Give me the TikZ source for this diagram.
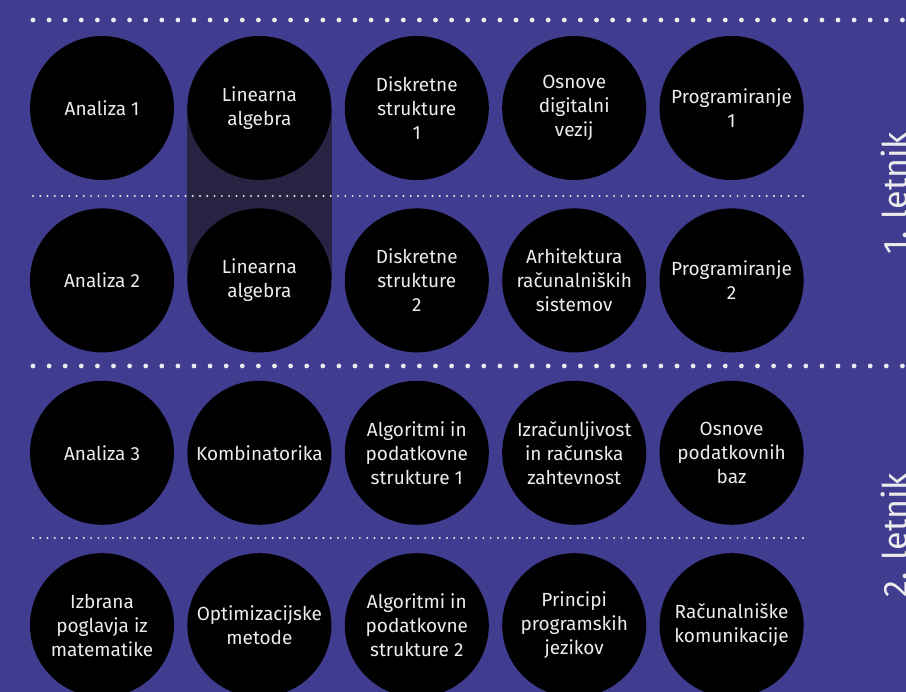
\documentclass[tikz,border=0pt]{standalone}
\usepackage{fontspec}
\setmainfont{Fira Sans}
\usepackage{tikz}
\usetikzlibrary{positioning,backgrounds}
\definecolor{ozadje}{RGB}{64,60,143}
\definecolor{senca}{RGB}{38,36,66}
\definecolor{napis}{RGB}{236,236,236}

\begin{document}
\begin{tikzpicture}[x=1pt,y=1pt,node distance=28pt and 13pt,
		predmet/.style={circle,fill=black,text=napis,minimum size=144pt,inner sep=0pt,align=center,font=\fontsize{19}{24}\selectfont},
		letnik/.style={text=napis,font=\fontsize{34}{34}\selectfont,rotate=90,anchor=base}]
			\useasboundingbox (0,0) rectangle (906,692);
			\clip (0,0) rectangle (906,692);
			% 1. letnik
			\node[predmet] (an1) at (102,584) {Analiza 1};
			\node[predmet] (la1) [right=of an1] {Linearna\\algebra};
			\node[predmet] (ds1) [right=of la1] {Diskretne\\strukture\\1};
			\node[predmet] (odv) [right=of ds1] {Osnove\\digitalni\\vezij};
			\node[predmet] (pr1) [right=of odv] {Programiranje\\1};
			\node[predmet] (an2) [below=of an1] {Analiza 2};
			\node[predmet] (la2) [right=of an2] {Linearna\\algebra};
			\node[predmet] (ds2) [right=of la2] {Diskretne\\strukture\\2};
			\node[predmet] (ars) [right=of ds2] {Arhitektura\\računalniških\\sistemov};
			\node[predmet] (pr2) [right=of ars] {Programiranje\\2};
			% 2. letnik
			\node[predmet] (an3) [below=of an2] {Analiza 3};
			\node[predmet] (kom) [right=of an3] {Kombinatorika};
			\node[predmet] (aps1) [right=of kom] {Algoritmi in\\podatkovne\\strukture 1};
			\node[predmet] (izr) [right=of aps1] {Izračunljivost\\in računska\\zahtevnost};
			\node[predmet] (opb) [right=of izr] {Osnove\\podatkovnih\\baz};
			\node[predmet] (ipm) [below=of an3] {Izbrana\\poglavja iz\\matematike};
			\node[predmet] (opt) [right=of ipm] {Optimizacijske\\metode};
			\node[predmet] (aps2) [right=of opt] {Algoritmi in\\podatkovne\\strukture 2};
			\node[predmet] (ppj) [right=of aps2] {Principi\\programskih\\jezikov};
			\node[predmet] (rk) [right=of ppj] {Računalniške\\komunikacije};

			\node[letnik] (l1) at (907,499) {1. letnik};
			\node[letnik] (l2) at (907,157) {2. letnik};

			\begin{scope}[on background layer]
				\fill[ozadje] (0,0) rectangle (906,692);
				\fill[senca] (la1.west) rectangle (la2.east);
			\end{scope}

			% pikcaste crte
			\foreach \i in {0,...,55} {
				\fill[napis] (33+16.1*\i,672) circle (2.4pt);
				\fill[napis] (33+16.1*\i,326) circle (2.4pt);
			}
			\foreach \i in {0,...,106} {
				\fill[napis] (33+7.264*\i,496) circle (1.1pt);
				\fill[napis] (33+7.264*\i,154) circle (1.1pt);
			}
			\end{tikzpicture}
\end{document}
